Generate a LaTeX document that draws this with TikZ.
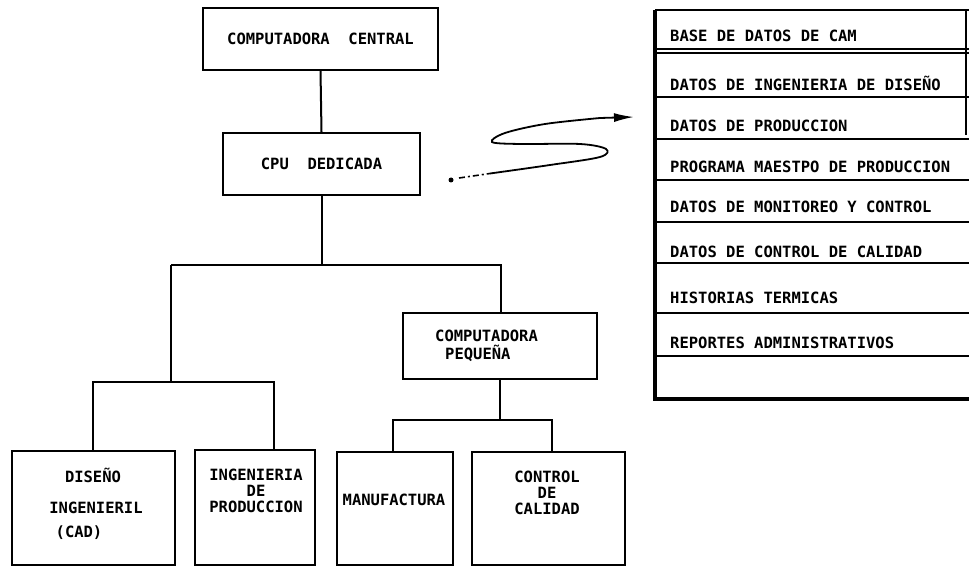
\documentclass[tikz,border=0pt]{standalone}
\usepackage{fontspec}
\setmonofont{DejaVu Sans Mono}
\usetikzlibrary{arrows.meta}
\begin{document}
\begin{tikzpicture}[x=1pt,y=-1pt,
  txt/.style={font=\ttfamily\bfseries\fontsize{15.5}{15.5}\selectfont,inner sep=0pt},
  blk/.style={draw,line width=2pt,txt,align=center},
  wire/.style={line width=2pt},
  row/.style={txt,anchor=west}]
\useasboundingbox (0,0) rectangle (969,569);

% main hierarchy
\node[blk,minimum width=235,minimum height=62] (cc) at (320.5,39) {COMPUTADORA\ \ CENTRAL};
\node[blk,minimum width=197,minimum height=62] (cpu) at (321.5,164) {CPU\ \ DEDICADA};
\node[blk,minimum width=194,minimum height=66] (peq) at (500,346) {};
\node[txt,anchor=west] (peq1) at (435,336) {COMPUTADORA};
\node[txt,anchor=west] (peq2) at (445,353) {PEQUEÑA};

\node[blk,minimum width=163,minimum height=114] (dis) at (93.5,508) {};
\node[txt] (dis1) at (93,475) {DISEÑO};
\node[txt] (dis2) at (96,508) {INGENIERIL};
\node[txt] (dis3) at (79,533) {(CAD)};

\node[blk,minimum width=120,minimum height=115] (ing) at (255,507.5) {};
\node[txt] (ing1) at (256,475) {INGENIERIA};
\node[txt] (ing2) at (256,491) {DE};
\node[txt] (ing3) at (256,507) {PRODUCCION};

\node[blk,minimum width=116,minimum height=113] (man) at (395,508.5) {};
\node[txt] (mant) at (394,500) {MANUFACTURA};

\node[blk,minimum width=153,minimum height=113] (cal) at (548.5,508.5) {};
\node[txt] (cal1) at (547,477) {CONTROL};
\node[txt] (cal2) at (547,493) {DE};
\node[txt] (cal3) at (547,509) {CALIDAD};

% connectors
\coordinate (ja) at (171,265);
\coordinate (jb) at (501,265);
\coordinate (jc) at (93,382);
\coordinate (jd) at (274,382);
\coordinate (je) at (393,420);
\coordinate (jf) at (552,420);

\draw[wire] (cc.south) -- (cpu.north);
\draw[wire] (cpu.south) -- (cpu.south |- ja);
\draw[wire] (ja) -- (jb) -- (jb |- peq.north);
\draw[wire] (ja) -- (ja |- jc);
\draw[wire] (jc |- dis.north) -- (jc) -- (jd) -- (jd |- ing.north);
\draw[wire] (peq.south) -- (peq.south |- je);
\draw[wire] (je |- man.north) -- (je) -- (jf) -- (jf |- cal.north);

% CAM data base table
\coordinate (tl) at (655,10);
\coordinate (bl) at (655,399);
\draw[line width=2pt] (tl) -- (969,10);
\draw[line width=1.6pt] (966,10) -- (966,135);
\foreach \y in {49,53,97,139,180,222,263,313,356}
  \draw[line width=2pt] (655,\y) -- (969,\y);
\draw[line width=3.5pt] (tl) -- (bl) -- (969,399);

\node[row] (r1) at (670,36) {BASE DE DATOS DE CAM};
\node[row] (r2) at (670,83) {DATOS DE INGENIERIA DE DISEÑO};
\node[row] (r3) at (670,126) {DATOS DE PRODUCCION};
\node[row] (r4) at (670,167) {PROGRAMA MAESTPO DE PRODUCCION};
\node[row] (r5) at (670,207) {DATOS DE MONITOREO Y CONTROL};
\node[row] (r6) at (670,252) {DATOS DE CONTROL DE CALIDAD};
\node[row] (r7) at (670,298) {HISTORIAS TERMICAS};
\node[row] (r8) at (670,343) {REPORTES ADMINISTRATIVOS};

% looped pointer towards the table
\coordinate (ps) at (451,180);
\coordinate (pe) at (634,117);
\fill (ps) circle (2.5);
\draw[line width=1.6pt, dash pattern=on 6pt off 3pt on 2pt off 3pt] (459,178) -- (490,173.5);
\draw[line width=1.8pt, -{Latex[length=20pt,width=9pt]}]
  plot[smooth,tension=0.55] coordinates {(490,173.5) (550,165) (600,157) (606,149) (580,144) (520,144) (492,142) (505,133) (545,124) (600,118)} -- (pe);
\end{tikzpicture}
\end{document}
